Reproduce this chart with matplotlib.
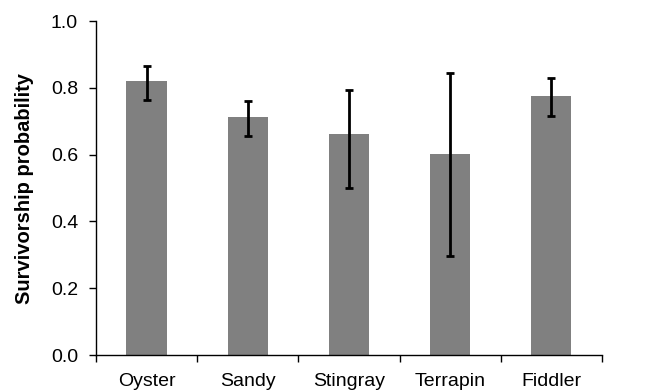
import numpy as np
import matplotlib.pyplot as plt

plt.rcParams['font.family'] = ['Liberation Sans', 'DejaVu Sans']

habitats = ["Oyster", "Sandy", "Stingray", "Terrapin", "Fiddler"]
survival = [0.821, 0.713, 0.662, 0.603, 0.776]
err_low = [0.764, 0.657, 0.500, 0.297, 0.717]
err_high = [0.866, 0.761, 0.795, 0.845, 0.829]

x = np.arange(len(habitats))
yerr = [np.array(survival) - np.array(err_low), np.array(err_high) - np.array(survival)]

fig = plt.figure(figsize=(6.45, 3.91), dpi=100)
ax = fig.add_axes([0.149, 0.092, 0.784, 0.854])

ax.bar(x, survival, width=0.4, color='#808080', zorder=2)
ax.errorbar(x, survival, yerr=yerr, fmt='none', ecolor='black',
            elinewidth=2, capsize=3, capthick=2, zorder=3)

ax.set_xlim(-0.5, len(habitats) - 0.5)
ax.set_ylim(0, 1.0)
ax.set_yticks(np.arange(0, 1.01, 0.2))
ax.set_yticklabels([f"{v:.1f}" for v in np.arange(0, 1.01, 0.2)])

# category boundaries get the tick marks, names sit in between
ax.set_xticks(np.arange(len(habitats) + 1) - 0.5)
ax.set_xticklabels([])
ax.set_xticks(x, minor=True)
ax.set_xticklabels(habitats, minor=True)
ax.tick_params(axis='x', which='major', direction='out', length=5, width=1)
ax.tick_params(axis='x', which='minor', length=0, pad=13, labelsize=14)
ax.tick_params(axis='y', direction='out', length=5, width=1, labelsize=14, pad=8)

for s in ['top', 'right']:
    ax.spines[s].set_visible(False)
ax.spines['left'].set_linewidth(1)
ax.spines['bottom'].set_linewidth(1)

ax.set_ylabel("Survivorship probability", fontsize=14.5, fontweight='bold', labelpad=12)

fig.savefig("out.png", dpi=100)
